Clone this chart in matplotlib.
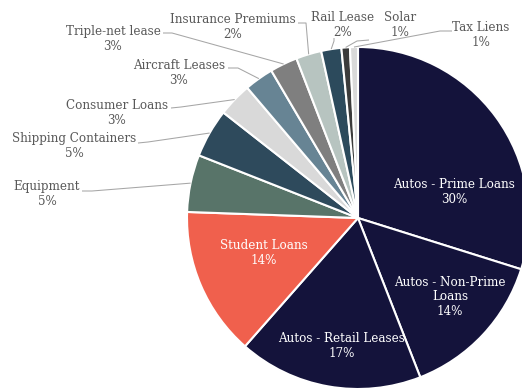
import numpy as np
import matplotlib.pyplot as plt

# slice shares (%)
categories = ['Autos - Prime Loans', 'Autos - Non-Prime\nLoans', 'Autos - Retail Leases',
              'Student Loans', 'Equipment', 'Shipping Containers', 'Consumer Loans',
              'Aircraft Leases', 'Triple-net lease', 'Insurance Premiums', 'Rail Lease',
              'Solar', 'Tax Liens']
shares = [29.8, 14.2, 17.4, 14.05, 5.4, 4.6, 3.2, 2.75, 2.6, 2.4, 1.9, 0.8, 0.75]
colors = ['#14133B', '#14133B', '#14133B', '#F0604D', '#587469', '#2E4A5C', '#D9D9D9',
          '#678494', '#7F7F7F', '#B7C4C0', '#2C4A5C', '#3B3B3B', '#D9D9D9']

W, H = 522, 388
cx, cy, R = 358, H - 218, 171

# label layout in pixels from top-left: text centre, leader start (None = inside)
text_pos = [(454, 192), (450, 297), (342, 346), (264, 253), (47, 194), (74, 146),
            (117, 113), (179, 73), (113, 39), (233, 27), (343, 25), (400, 25), (481, 35)]
leader_start = [None, None, None, None, (82, 191), (138, 143), (171, 108), (228, 68),
                (163, 33), (298, 23), (334, 38), (369, 40), (452, 31)]
leader_elbow = [None, None, None, None, (92, 191), (148, 142), (181, 107), (238, 68),
                (172, 33), (306, 23), (334, 41), (357, 41), (440, 31)]

plt.rcParams['font.family'] = ['DejaVu Serif']
fig = plt.figure(figsize=(W / 100, H / 100), dpi=100)
ax = fig.add_axes([0, 0, 1, 1])

wedges, _ = ax.pie(shares, colors=colors, startangle=90, counterclock=False,
                   center=(cx, cy), radius=R,
                   wedgeprops=dict(edgecolor='white', linewidth=1.5))
ax.set_xlim(0, W)
ax.set_ylim(0, H)
ax.set_aspect('equal')
ax.axis('off')

for i, (name, v) in enumerate(zip(categories, shares)):
    tx, ty = text_pos[i]
    label = f'{name}\n{v:.0f}%'
    if leader_start[i] is None:
        ax.text(tx, H - ty, label, color='white', fontsize=8.6, ha='center',
                va='center', multialignment='center', linespacing=1.12)
        continue
    ax.text(tx, H - ty, label, color='#595959', fontsize=8.6, ha='center',
            va='center', multialignment='center', linespacing=1.12)
    w = wedges[i]
    mid = np.deg2rad((w.theta1 + w.theta2) / 2)
    ex, ey = cx + R * np.cos(mid), cy + R * np.sin(mid)
    (sx, sy), (bx, by) = leader_start[i], leader_elbow[i]
    ax.plot([sx, bx, ex], [H - sy, H - by, ey], color='#A6A6A6', linewidth=0.75,
            solid_capstyle='butt')

fig.savefig('out.png', dpi=100)
